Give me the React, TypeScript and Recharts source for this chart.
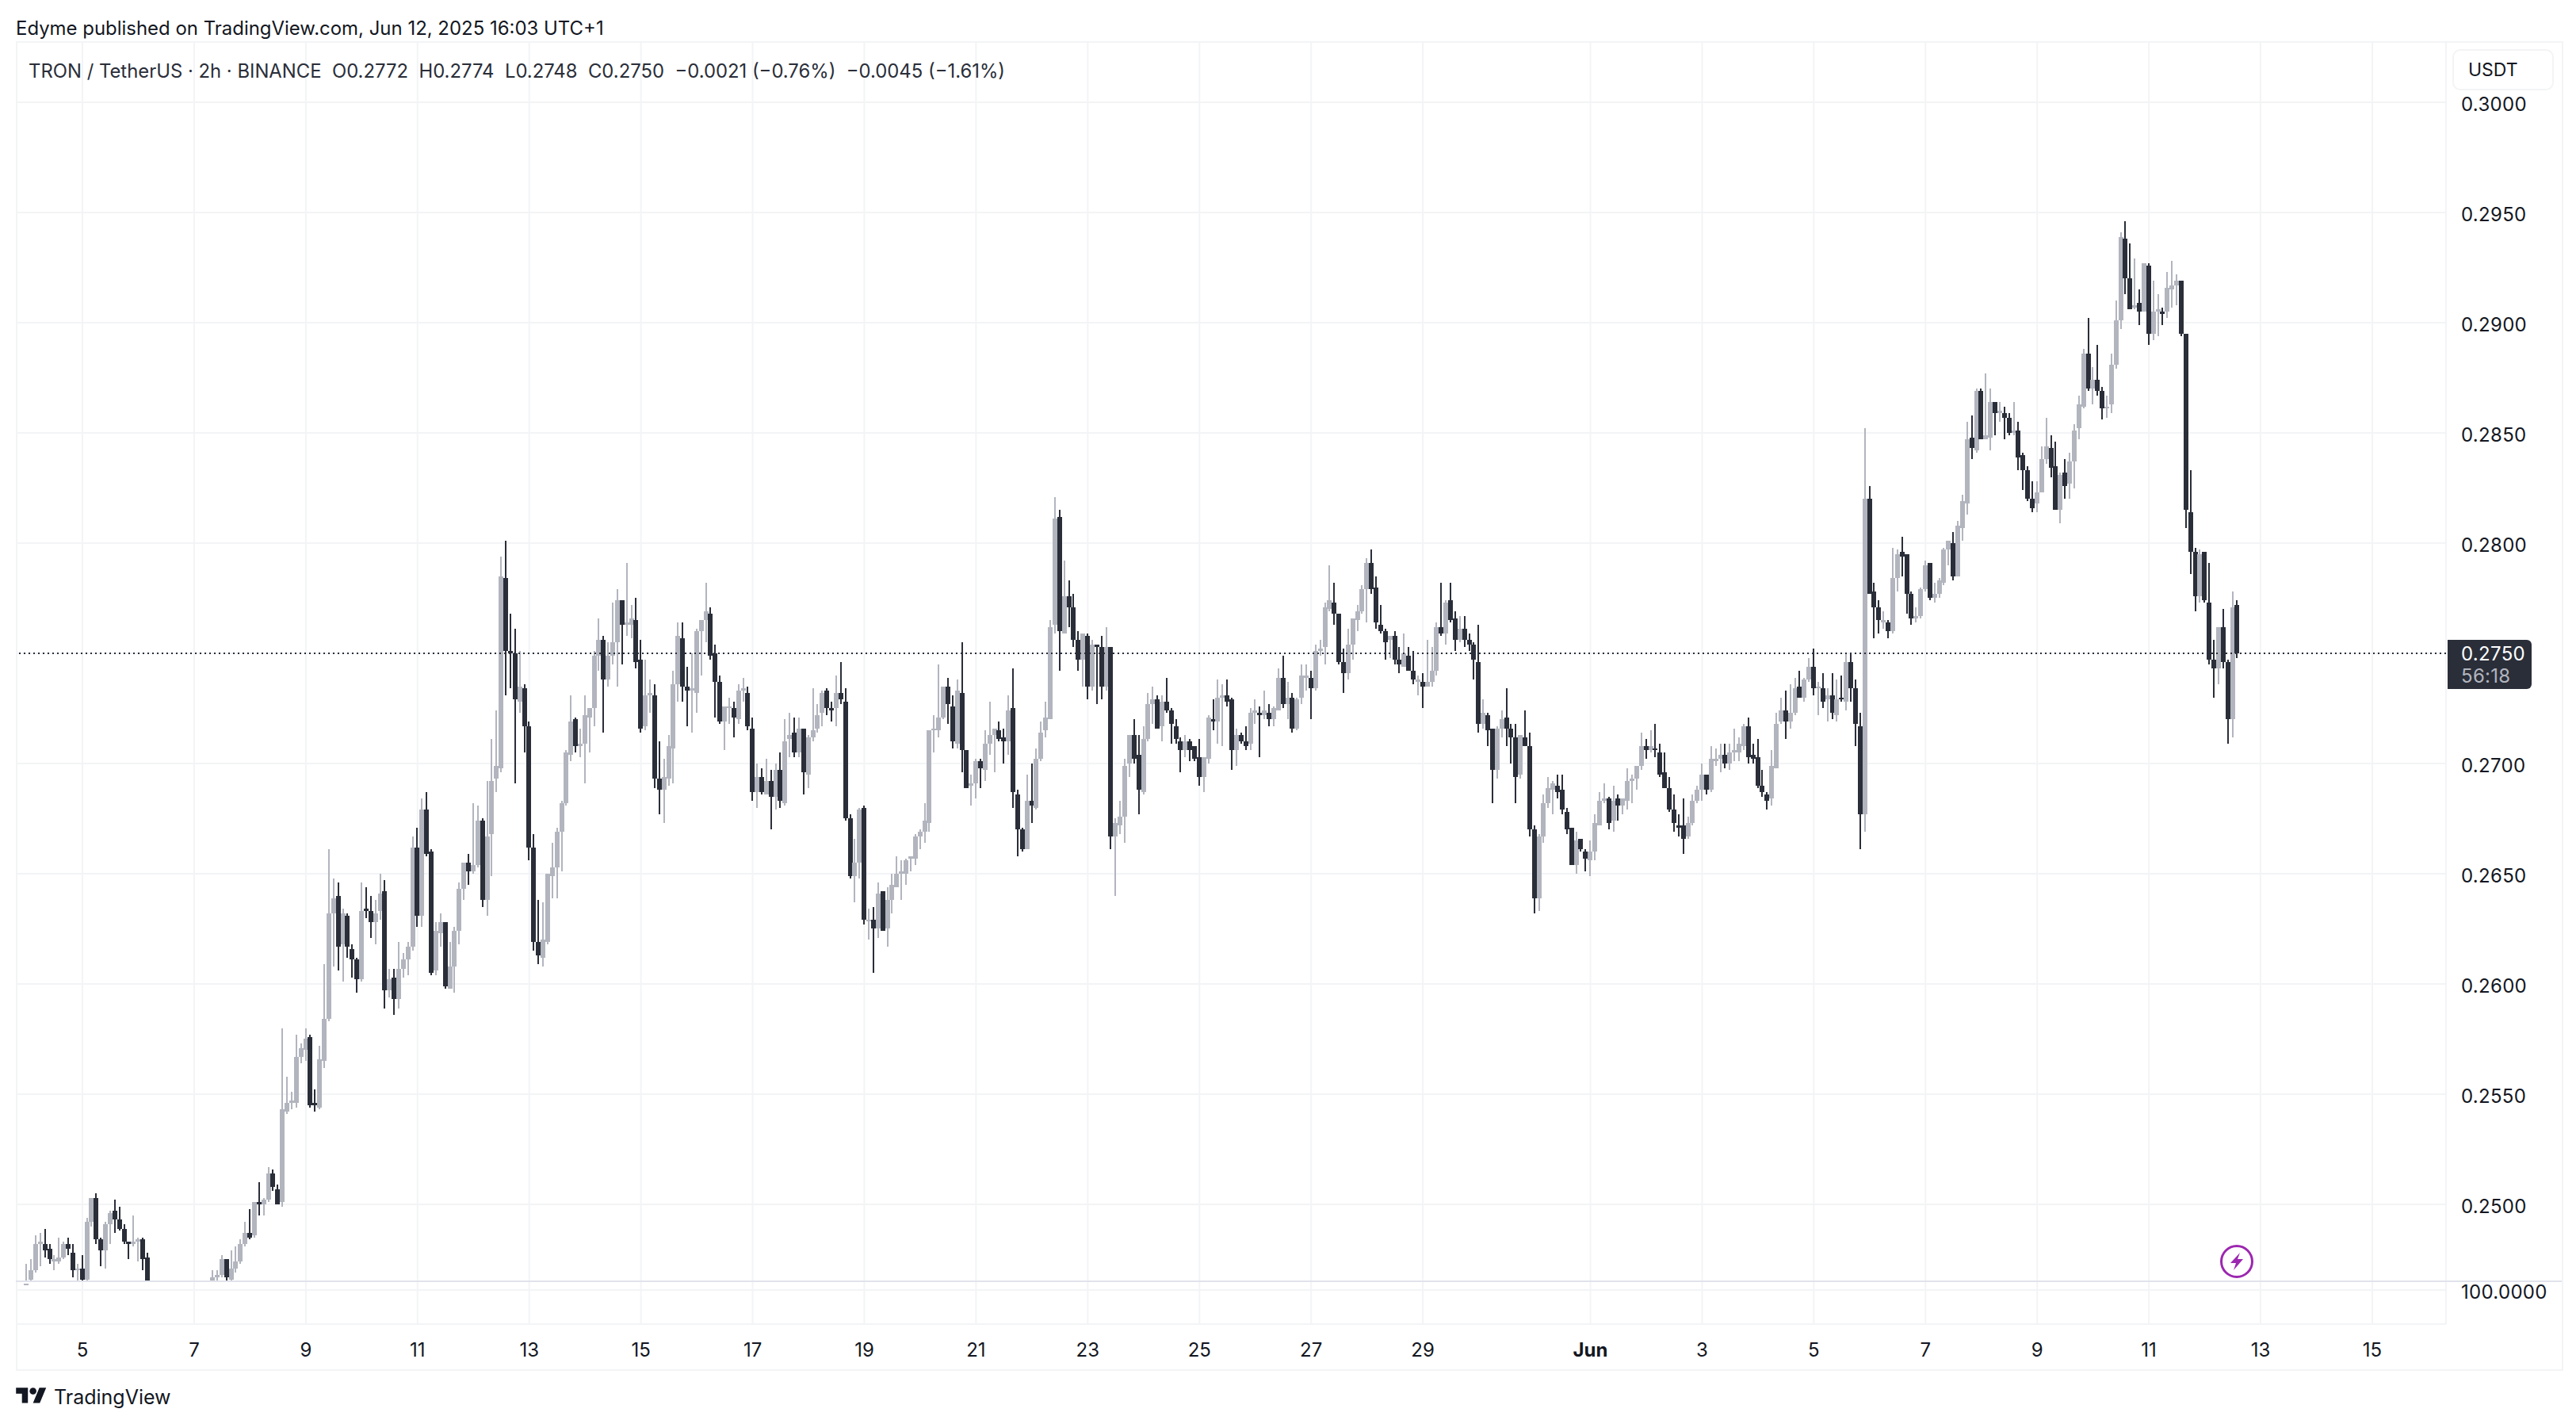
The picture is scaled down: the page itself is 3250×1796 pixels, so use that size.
import { Bar, CartesianGrid, ComposedChart, ReferenceLine, XAxis, YAxis } from 'recharts';

// 2h candles, prices in 1/10000 USDT, one row per day, first candle is May 4 00:00
const opens = [
  2460,2466,2470,2482,2482,2480,2474,2474,2476,2482,2478,2470,
  2471,2466,2492,2503,2484,2479,2491,2497,2493,2489,2483,2482,
  2483,2484,2476,2460,2452,2449,2451,2447,2450,2452,2451,2453,
  2456,2454,2458,2457,2462,2467,2468,2475,2466,2471,2474,2482,
  2487,2486,2501,2500,2502,2514,2507,2501,2542,2546,2546,2567,
  2570,2576,2546,2544,2565,2584,2632,2640,2618,2631,2616,2611,
  2602,2634,2633,2628,2633,2642,2597,2603,2593,2607,2611,2617,
  2662,2631,2679,2660,2606,2623,2628,2598,2608,2624,2643,2655,
  2651,2654,2674,2638,2668,2693,2698,2784,2751,2750,2728,2734,
  2717,2662,2619,2612,2619,2649,2653,2669,2682,2704,2720,2708,
  2709,2721,2725,2749,2756,2738,2749,2755,2774,2763,2763,2765,
  2747,2717,2731,2731,2693,2688,2693,2707,2736,2757,2735,2733,
  2732,2760,2765,2768,2750,2737,2719,2725,2725,2720,2733,2732,
  2716,2687,2694,2686,2692,2685,2697,2682,2711,2714,2705,2716,
  2695,2712,2716,2723,2733,2725,2725,2732,2728,2675,2649,2655,
  2680,2629,2629,2625,2642,2625,2638,2644,2650,2650,2657,2657,
  2667,2669,2673,2715,2715,2721,2735,2726,2709,2732,2706,2690,
  2691,2701,2697,2709,2713,2715,2712,2710,2725,2686,2670,2661,
  2683,2680,2702,2715,2720,2763,2812,2759,2776,2771,2756,2747,
  2758,2735,2754,2753,2735,2753,2667,2672,2676,2700,2713,2704,
  2687,2711,2727,2729,2717,2728,2724,2717,2710,2706,2710,2708,
  2703,2694,2702,2720,2719,2730,2731,2729,2706,2713,2710,2709,
  2723,2723,2722,2723,2720,2724,2739,2727,2730,2716,2730,2739,
  2739,2734,2751,2753,2770,2773,2768,2746,2741,2754,2765,2769,
  2779,2791,2780,2763,2760,2756,2758,2747,2744,2749,2742,2737,
  2737,2735,2737,2742,2762,2759,2774,2766,2756,2761,2756,2754,
  2746,2718,2722,2716,2697,2716,2721,2716,2712,2695,2712,2708,
  2670,2639,2667,2682,2688,2690,2688,2678,2671,2654,2666,2660,
  2656,2660,2672,2683,2684,2674,2684,2681,2683,2692,2693,2699,
  2708,2706,2707,2705,2696,2689,2679,2672,2672,2667,2673,2683,
  2688,2695,2688,2701,2702,2704,2700,2705,2705,2708,2717,2704,
  2703,2690,2686,2684,2698,2719,2724,2719,2723,2735,2730,2738,
  2744,2734,2734,2729,2731,2722,2730,2728,2746,2734,2717,2677,
  2820,2778,2771,2764,2764,2760,2784,2796,2795,2777,2766,2767,
  2779,2791,2775,2777,2782,2797,2800,2785,2807,2818,2848,2842,
  2869,2847,2848,2864,2859,2859,2857,2850,2851,2840,2833,2820,
  2818,2823,2838,2843,2835,2815,2832,2827,2837,2852,2862,2886,
  2870,2874,2869,2861,2863,2881,2901,2938,2920,2907,2909,2905,
  2926,2895,2905,2905,2905,2915,2917,2919,2895,2814,2796,2776,
  2796,2773,2747,2743,2762,2746,2720,2772,
];

const highs = [
  2473,2475,2486,2487,2489,2482,2477,2485,2483,2485,2482,2473,
  2477,2494,2503,2505,2485,2492,2497,2502,2499,2491,2483,2495,
  2485,2485,2478,2462,2456,2453,2455,2452,2454,2457,2455,2458,
  2459,2460,2462,2463,2470,2470,2477,2475,2479,2481,2484,2492,
  2498,2501,2510,2503,2517,2516,2509,2580,2558,2551,2577,2573,
  2580,2577,2552,2572,2609,2661,2648,2646,2634,2632,2618,2612,
  2646,2644,2640,2638,2650,2647,2607,2607,2619,2614,2619,2667,
  2671,2684,2687,2661,2628,2632,2628,2619,2626,2646,2655,2659,
  2682,2681,2675,2692,2711,2724,2794,2801,2768,2761,2751,2736,
  2719,2668,2638,2637,2650,2664,2671,2683,2706,2731,2721,2716,
  2731,2725,2751,2766,2758,2755,2773,2779,2774,2791,2772,2775,
  2756,2747,2738,2736,2710,2702,2713,2742,2764,2764,2744,2750,
  2761,2765,2782,2771,2754,2740,2726,2730,2728,2736,2739,2735,
  2721,2700,2698,2702,2697,2700,2705,2720,2723,2721,2721,2716,
  2713,2734,2727,2733,2734,2728,2740,2746,2734,2677,2666,2680,
  2681,2634,2635,2646,2642,2644,2650,2658,2656,2657,2658,2668,
  2670,2682,2715,2722,2745,2735,2739,2731,2738,2755,2706,2695,
  2702,2702,2715,2728,2716,2719,2716,2731,2743,2688,2671,2695,
  2700,2707,2719,2728,2765,2821,2815,2792,2783,2777,2760,2759,
  2759,2756,2754,2758,2762,2753,2675,2683,2702,2713,2720,2713,
  2717,2732,2735,2731,2731,2739,2725,2720,2712,2713,2711,2708,
  2711,2703,2722,2729,2738,2736,2738,2730,2716,2714,2717,2725,
  2729,2726,2733,2727,2726,2743,2749,2737,2732,2730,2745,2745,
  2742,2754,2756,2773,2790,2782,2768,2752,2761,2766,2772,2781,
  2793,2797,2785,2772,2761,2758,2760,2753,2759,2753,2751,2740,
  2741,2756,2753,2764,2782,2774,2782,2769,2767,2767,2759,2755,
  2763,2729,2723,2716,2717,2724,2734,2718,2718,2713,2724,2714,
  2672,2668,2686,2694,2692,2695,2695,2680,2671,2669,2666,2661,
  2665,2677,2687,2691,2685,2690,2686,2684,2698,2695,2699,2714,
  2711,2715,2718,2709,2705,2694,2686,2677,2684,2676,2686,2690,
  2700,2695,2708,2707,2709,2709,2709,2716,2712,2718,2721,2709,
  2711,2697,2687,2706,2723,2730,2733,2736,2739,2742,2739,2748,
  2752,2737,2741,2734,2741,2738,2740,2750,2750,2738,2723,2852,
  2826,2782,2774,2769,2765,2798,2797,2803,2795,2778,2771,2780,
  2792,2791,2782,2784,2798,2801,2805,2810,2822,2855,2858,2870,
  2870,2877,2870,2864,2864,2862,2859,2864,2855,2841,2835,2828,
  2828,2844,2857,2849,2846,2832,2838,2841,2854,2867,2888,2902,
  2880,2890,2871,2867,2886,2910,2941,2946,2936,2929,2915,2927,
  2927,2919,2913,2907,2923,2928,2922,2919,2895,2833,2798,2797,
  2796,2791,2756,2762,2770,2747,2778,2774,
];

const lows = [
  2455,2465,2469,2472,2476,2473,2470,2473,2475,2477,2467,2464,
  2464,2465,2490,2482,2472,2471,2482,2487,2488,2482,2475,2481,
  2474,2470,2458,2450,2447,2445,2446,2443,2447,2449,2446,2450,
  2451,2452,2455,2455,2460,2464,2467,2464,2465,2469,2473,2481,
  2484,2485,2495,2495,2501,2506,2500,2499,2541,2543,2544,2564,
  2565,2544,2542,2543,2562,2583,2608,2606,2601,2612,2603,2596,
  2601,2630,2621,2618,2629,2589,2594,2586,2589,2603,2604,2615,
  2626,2626,2658,2604,2604,2617,2598,2598,2596,2618,2638,2645,
  2650,2653,2635,2631,2649,2687,2696,2731,2734,2691,2723,2705,
  2656,2615,2609,2608,2618,2639,2639,2651,2681,2701,2705,2703,
  2691,2705,2717,2742,2714,2735,2745,2735,2745,2758,2757,2743,
  2714,2715,2723,2689,2677,2673,2690,2691,2728,2728,2717,2714,
  2723,2740,2755,2747,2721,2718,2706,2718,2712,2718,2728,2715,
  2683,2680,2686,2686,2670,2679,2680,2681,2703,2703,2703,2686,
  2689,2710,2714,2717,2722,2719,2717,2727,2674,2648,2637,2648,
  2627,2620,2605,2621,2624,2617,2632,2644,2638,2645,2651,2654,
  2661,2664,2669,2705,2712,2720,2718,2707,2707,2696,2689,2681,
  2684,2689,2692,2704,2696,2710,2700,2704,2680,2658,2660,2661,
  2673,2679,2701,2712,2720,2759,2742,2759,2762,2753,2742,2735,
  2729,2733,2727,2729,2733,2661,2640,2668,2664,2694,2700,2677,
  2686,2710,2718,2716,2710,2723,2709,2709,2696,2703,2701,2701,
  2690,2687,2700,2715,2709,2708,2726,2697,2699,2709,2706,2706,
  2718,2703,2720,2717,2717,2724,2725,2720,2714,2715,2727,2733,
  2720,2733,2749,2745,2769,2763,2745,2732,2738,2747,2760,2768,
  2764,2777,2761,2759,2747,2748,2745,2741,2744,2742,2736,2731,
  2725,2735,2735,2740,2758,2754,2764,2751,2755,2753,2751,2738,
  2714,2716,2708,2682,2693,2712,2708,2700,2682,2693,2708,2667,
  2632,2633,2664,2680,2677,2684,2677,2668,2654,2650,2660,2651,
  2649,2656,2672,2682,2670,2669,2674,2677,2679,2682,2688,2697,
  2702,2705,2703,2694,2689,2678,2669,2667,2659,2666,2672,2682,
  2683,2686,2687,2699,2696,2698,2697,2701,2701,2706,2700,2700,
  2689,2685,2679,2681,2698,2718,2711,2716,2722,2730,2728,2737,
  2731,2722,2725,2719,2720,2719,2728,2724,2728,2708,2661,2669,
  2777,2757,2759,2761,2757,2759,2778,2785,2768,2763,2764,2766,
  2778,2774,2773,2775,2781,2790,2783,2785,2801,2813,2838,2841,
  2847,2847,2842,2849,2855,2847,2849,2849,2833,2824,2819,2814,
  2814,2823,2836,2830,2815,2809,2820,2820,2825,2847,2861,2869,
  2863,2867,2856,2857,2859,2879,2897,2913,2906,2906,2899,2905,
  2890,2892,2894,2899,2902,2907,2908,2894,2807,2786,2769,2773,
  2773,2745,2730,2736,2743,2709,2712,2748,
];

const closes = [
  2464,2470,2482,2483,2479,2475,2475,2476,2482,2480,2470,2471,
  2466,2492,2503,2484,2479,2491,2496,2493,2489,2483,2482,2483,
  2484,2475,2460,2452,2449,2451,2447,2450,2452,2451,2453,2456,
  2454,2458,2457,2462,2467,2468,2475,2467,2471,2474,2482,2487,
  2485,2501,2500,2502,2514,2508,2500,2543,2546,2547,2567,2571,
  2575,2545,2545,2566,2584,2632,2639,2617,2632,2617,2611,2602,
  2633,2633,2628,2632,2641,2597,2602,2593,2607,2611,2617,2662,
  2631,2679,2659,2605,2624,2628,2599,2608,2624,2643,2655,2651,
  2654,2674,2638,2667,2692,2699,2785,2751,2750,2729,2735,2717,
  2662,2619,2613,2620,2650,2653,2669,2682,2705,2719,2708,2709,
  2722,2725,2749,2756,2738,2749,2755,2774,2763,2764,2766,2746,
  2716,2731,2732,2693,2688,2694,2708,2736,2758,2735,2733,2734,
  2760,2765,2769,2749,2737,2719,2726,2726,2721,2733,2734,2717,
  2687,2694,2687,2692,2685,2697,2683,2710,2713,2705,2716,2696,
  2712,2715,2722,2732,2725,2724,2732,2729,2675,2649,2655,2679,
  2629,2629,2625,2641,2624,2638,2645,2650,2651,2656,2658,2667,
  2669,2674,2715,2716,2721,2735,2727,2710,2733,2706,2689,2691,
  2701,2698,2709,2713,2716,2711,2710,2724,2687,2670,2661,2683,
  2681,2702,2714,2721,2762,2811,2760,2776,2771,2756,2747,2759,
  2735,2754,2753,2735,2753,2667,2673,2676,2699,2713,2702,2688,
  2711,2727,2729,2716,2728,2724,2718,2711,2706,2710,2706,2702,
  2694,2703,2721,2719,2730,2731,2728,2706,2713,2710,2708,2723,
  2724,2722,2724,2720,2725,2739,2727,2730,2716,2729,2740,2740,
  2734,2751,2752,2771,2774,2768,2746,2741,2754,2766,2769,2779,
  2791,2779,2764,2760,2755,2758,2747,2745,2750,2742,2738,2738,
  2735,2737,2742,2762,2759,2773,2765,2756,2761,2756,2754,2747,
  2718,2723,2715,2697,2716,2720,2716,2712,2694,2713,2708,2670,
  2639,2667,2682,2689,2691,2687,2679,2670,2654,2665,2661,2657,
  2660,2673,2683,2684,2673,2683,2681,2684,2692,2693,2699,2708,
  2706,2708,2706,2695,2689,2679,2673,2671,2666,2673,2683,2688,
  2695,2688,2702,2702,2704,2700,2705,2706,2709,2717,2703,2702,
  2690,2687,2683,2699,2718,2724,2719,2723,2734,2730,2738,2744,
  2734,2735,2728,2731,2723,2729,2729,2746,2734,2718,2677,2820,
  2777,2771,2765,2765,2760,2784,2795,2794,2777,2766,2767,2779,
  2790,2775,2777,2783,2797,2801,2785,2808,2819,2847,2843,2869,
  2847,2849,2864,2859,2860,2857,2850,2851,2839,2833,2820,2816,
  2823,2838,2844,2834,2815,2831,2826,2837,2851,2863,2886,2870,
  2874,2869,2861,2862,2881,2901,2939,2920,2906,2908,2905,2927,
  2895,2905,2906,2904,2916,2917,2919,2895,2815,2796,2776,2795,
  2774,2747,2743,2762,2746,2720,2771,2750,
];

const FIRST_DAY = 4; // May 4, days keep counting past May 31
const priceTicks = [0.3, 0.295, 0.29, 0.285, 0.28, 0.275, 0.27, 0.265, 0.26, 0.255, 0.25];
const INDICATOR_TICK = 0.246115; // the 100.0000 line of the lower pane
const dayTicks = [5, 7, 9, 11, 13, 15, 17, 19, 21, 23, 25, 27, 29, 32, 34, 36, 38, 40, 42, 44, 46];
const LAST_PRICE = 0.275;
const PANE_BOTTOM = 0.24651;

const DARK = '#2a2e39';
const GRAY = '#b2b5be';
const GRID = '#f3f4f6';
const TEXT = '#131722';
const FONT = 'Inter, sans-serif';

const candles = opens.map((open, i) => ({
  day: FIRST_DAY + i / 12,
  open: open / 10000,
  close: closes[i] / 10000,
  range: [lows[i] / 10000, highs[i] / 10000],
}));

function dayLabel(day: number) {
  if (day === 32) return 'Jun';
  return String(day > 31 ? day - 31 : day);
}

function DayTick({ x, y, payload }: any) {
  const bold = payload.value === 32;
  return (
    <text
      x={x}
      y={y + 33}
      textAnchor="middle"
      fontFamily={FONT}
      fontSize={24}
      fontWeight={bold ? 700 : 400}
      fill={TEXT}
    >
      {dayLabel(payload.value)}
    </text>
  );
}

// candle drawn from the [low, high] rectangle of the bar, cut at the bottom of the price pane
function Candle({ x, y, width, height, payload }: any) {
  const [low, high] = payload.range;
  if (high <= PANE_BOTTOM) return <g />;
  const perPrice = height / (high - low);
  const toY = (p: number) => y + (high - p) * perPrice;
  const color = payload.close < payload.open ? DARK : GRAY;
  const cx = Math.round(x + width / 2);
  const wickEnd = toY(Math.max(low, PANE_BOTTOM));
  const top = toY(Math.max(payload.open, payload.close));
  const bottom = toY(Math.max(Math.min(payload.open, payload.close), PANE_BOTTOM));
  return (
    <g shapeRendering="crispEdges">
      <rect x={cx - 1} y={y} width={2} height={wickEnd - y} fill={color} />
      <rect x={cx - 3} y={top} width={6} height={Math.max(bottom - top, 2)} fill={color} />
    </g>
  );
}

export default function App() {
  return (
    <div style={{ position: 'absolute', left: 0, top: 0, width: 3250, height: 1796, background: '#fff', fontFamily: FONT, color: TEXT, overflow: 'hidden' }}>
      <div style={{ position: 'absolute', left: 20, top: 21, fontSize: 23.95, lineHeight: '30px', whiteSpace: 'pre' }}>
        Edyme published on TradingView.com, Jun 12, 2025 16:03 UTC+1
      </div>
      <div style={{ position: 'absolute', left: 20, top: 52, width: 3210, height: 1673, border: '2px solid #f3f4f6' }} />
      <ComposedChart
        width={3250}
        height={1796}
        data={candles}
        margin={{ top: 53, left: 21, right: 0, bottom: 70 }}
        style={{ position: 'absolute', left: 0, top: 0 }}
      >
        <CartesianGrid stroke={GRID} strokeWidth={2} />
        <XAxis
          dataKey="day"
          type="number"
          domain={[3.822, 47.32]}
          allowDataOverflow
          ticks={dayTicks}
          interval={0}
          height={56}
          axisLine={false}
          tickLine={false}
          tick={<DayTick />}
        />
        <YAxis
          orientation="right"
          type="number"
          domain={[0.244568, 0.302734]}
          allowDataOverflow
          ticks={[...priceTicks, INDICATOR_TICK]}
          interval={0}
          width={164}
          axisLine={false}
          tickLine={false}
          tickSize={0}
          tickMargin={19}
          tick={{ fontSize: 24, fill: TEXT, fontFamily: FONT, dy: 2, letterSpacing: 0.3 }}
          tickFormatter={(v: number) => (v < 0.25 - 0.0001 ? '100.0000' : v.toFixed(4))}
        />
        <Bar dataKey="range" barSize={6} shape={<Candle />} isAnimationActive={false} />
        <ReferenceLine y={LAST_PRICE} stroke={DARK} strokeWidth={2} strokeDasharray="2 4" />
      </ComposedChart>
      <div style={{ position: 'absolute', left: 20, top: 1615, width: 3212, height: 2, background: '#e0e3eb' }} />
      <div style={{ position: 'absolute', left: 36, top: 75, fontSize: 23.85, lineHeight: '30px', whiteSpace: 'pre', color: DARK }}>
        TRON / TetherUS · 2h · BINANCE{'  '}O0.2772{'  '}H0.2774{'  '}L0.2748{'  '}C0.2750{'  '}−0.0021 (−0.76%){'  '}−0.0045 (−1.61%)
      </div>
      <div style={{ position: 'absolute', left: 3094, top: 62, width: 128, height: 52, boxSizing: 'border-box', border: '2px solid #f3f4f6', borderRadius: 10, background: '#fff', fontSize: 23, lineHeight: '48px', paddingLeft: 18 }}>
        USDT
      </div>
      <div style={{ position: 'absolute', left: 3088, top: 807, width: 106, height: 62, background: DARK, borderRadius: '0 6px 6px 0', fontSize: 24, lineHeight: '28px', letterSpacing: 0.3 }}>
        <div style={{ position: 'absolute', left: 17, top: 4, color: '#fff' }}>0.2750</div>
        <div style={{ position: 'absolute', left: 17, top: 32, color: GRAY }}>56:18</div>
      </div>
      <svg style={{ position: 'absolute', left: 2798, top: 1567 }} width={48} height={48} viewBox="-24 -24 48 48">
        <circle r={19.5} fill="#fff" stroke="#9c27b0" strokeWidth={3} />
        <path d="M4 -11 L-8 2 L-1 2 L-4 11 L8 -3 L1 -3 Z" fill="#9c27b0" />
      </svg>
      <svg style={{ position: 'absolute', left: 20, top: 1746 }} width={39} height={30} viewBox="0 0 36 28">
        <path d="M14 22H7V11H0V4h14v18zM28 22h-8l7.5-18h8L28 22z" fill={TEXT} />
        <circle cx={20} cy={8} r={4} fill={TEXT} />
      </svg>
      <div style={{ position: 'absolute', left: 68, top: 1745, fontSize: 25, lineHeight: '34px' }}>TradingView</div>
    </div>
  );
}
